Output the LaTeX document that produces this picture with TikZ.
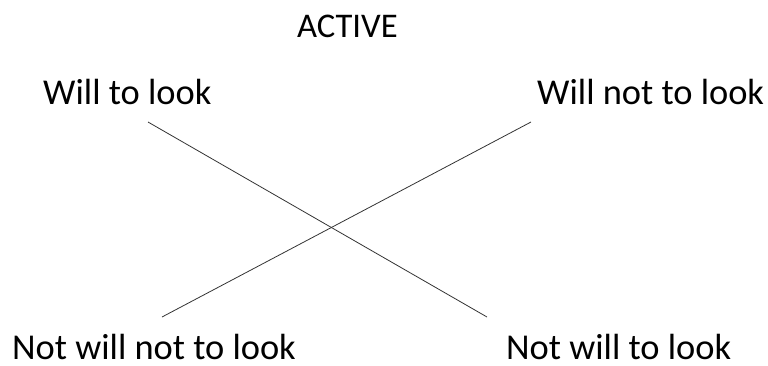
\documentclass[tikz,border=0pt]{standalone}
\usepackage{fontspec}
\setmainfont{Carlito}
\begin{document}
\begin{tikzpicture}[x=1pt,y=-1pt,
  label/.style={anchor=base west,inner sep=0pt,text depth=0pt,font=\fontsize{36.4}{42}\selectfont},
  cross/.style={draw=black!80,line width=0.8pt}]
\useasboundingbox (0,0) rectangle (768,365);
\node[label,font=\fontsize{34.6}{40}\selectfont] (active) at (297,37) {ACTIVE};
\node[label] (wl) at (43,104) {Will to look};
\node[label] (wnl) at (537,104) {Will not to look};
\node[label] (nwnl) at (12,359) {Not will not to look};
\node[label] (nwl) at (506,359) {Not will to look};
\coordinate (a1) at (148,122);
\coordinate (a2) at (487,317);
\coordinate (b1) at (531,122);
\coordinate (b2) at (162,317);
\draw[cross] (a1) -- (a2);
\draw[cross] (b1) -- (b2);
\end{tikzpicture}
\end{document}
